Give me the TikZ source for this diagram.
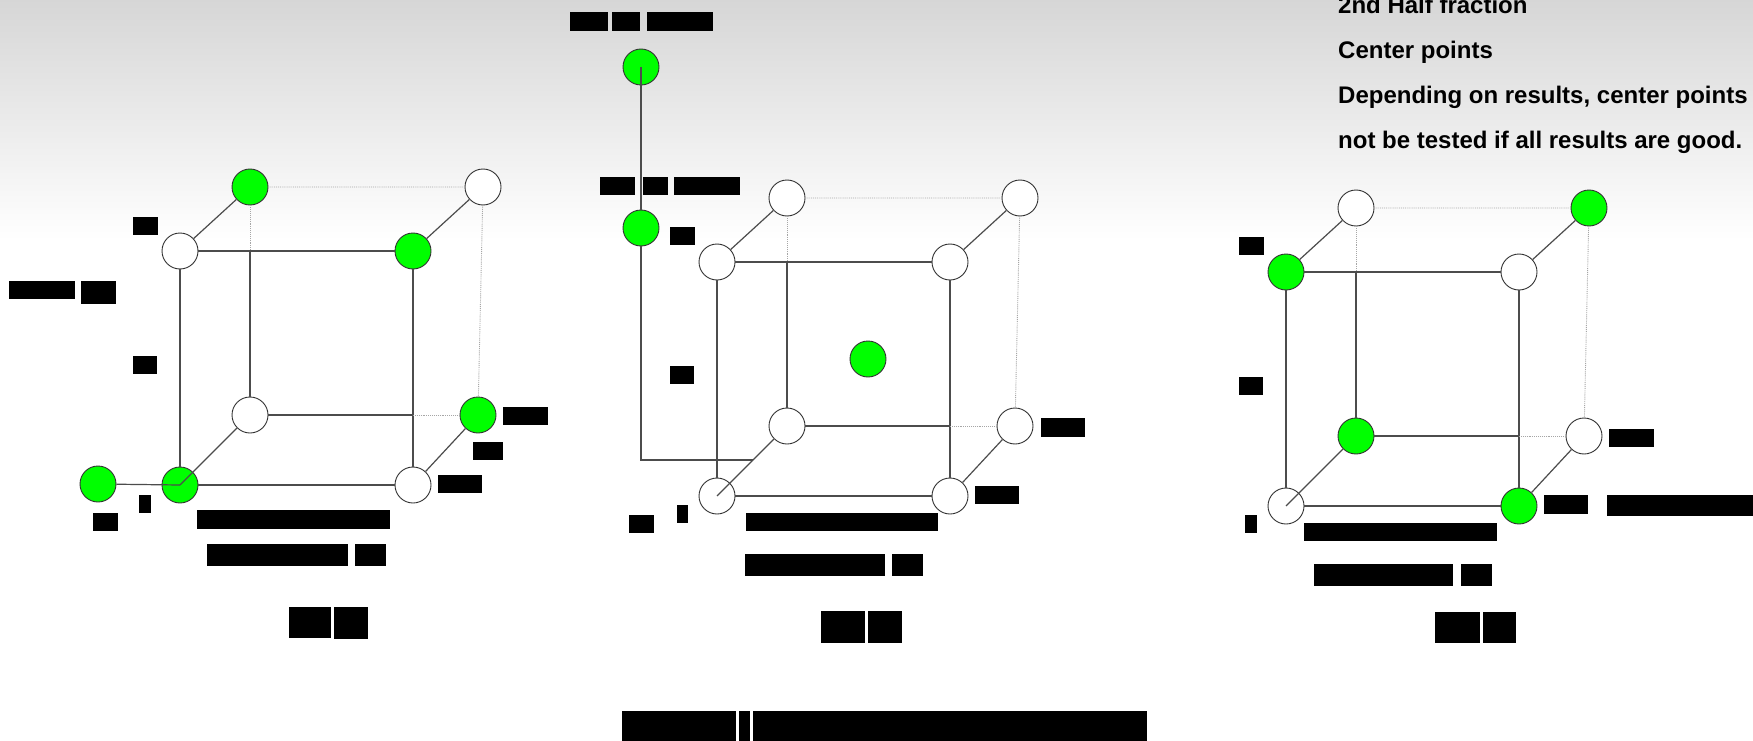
\documentclass[tikz,border=0pt]{standalone}
\usepackage{fontspec}
\setmainfont{Liberation Sans}
\begin{document}
\begin{tikzpicture}[x=1pt, y=-1pt,
    pt/.style={circle, draw=black!80, line width=0.9pt, minimum size=36pt, inner sep=0pt},
    hit/.style={pt, fill=green},
    miss/.style={pt, fill=white},
    edge/.style={black!70, line width=1.2pt},
    hidden/.style={black!35, line width=0.9pt, densely dotted},
    redact/.style={fill=black},
    note/.style={anchor=base west, inner sep=0pt, font=\fontsize{24}{28}\selectfont\bfseries}]
    \useasboundingbox (0,0) rectangle (1753,741);

    % slide background: grey fading to white
    \fill[white] (0,0) rectangle (1753,741);
    \shade[top color=black!16, bottom color=white] (0,0) rectangle (1753,240);

    % three cubes: name / front top left corner / fills (tfl tfr bfl bfr tbl tbr bbl bbr)
    \foreach \cb/\ox/\oy/\fa/\fb/\fc/\fd/\fe/\ff/\fg/\fh in {
        A/180/251/miss/hit/hit/miss/hit/miss/miss/hit,
        B/717/262/miss/miss/miss/miss/miss/miss/miss/miss,
        C/1286/272/hit/miss/miss/hit/miss/hit/hit/miss} {
        \node[\fa] (\cb-tfl) at (\ox,\oy) {};
        \node[\fb] (\cb-tfr) at (\ox+233,\oy) {};
        \node[\fc] (\cb-bfl) at (\ox,\oy+234) {};
        \node[\fd] (\cb-bfr) at (\ox+233,\oy+234) {};
        \node[\fe] (\cb-tbl) at (\ox+70,\oy-64) {};
        \node[\ff] (\cb-tbr) at (\ox+303,\oy-64) {};
        \node[\fg] (\cb-bbl) at (\ox+70,\oy+164) {};
        \node[\fh] (\cb-bbr) at (\ox+298,\oy+164) {};
        % where the back edges pass behind the front face
        \coordinate (\cb-s1) at (\ox+70,\oy);
        \coordinate (\cb-s2) at (\ox+233,\oy+164);

        \draw[edge] (\cb-tfl) -- (\cb-tfr) -- (\cb-bfr) -- (\cb-bfl) -- (\cb-tfl);
        \draw[edge] (\cb-tfl) -- (\cb-tbl) (\cb-tfr) -- (\cb-tbr) (\cb-bfr) -- (\cb-bbr);
        \draw[edge] (\cb-bfl.center) -- (\cb-bbl);
        \draw[hidden] (\cb-tbl) -- (\cb-tbr) -- (\cb-bbr);
        \draw[hidden] (\cb-tbl) -- (\cb-s1);
        \draw[edge] (\cb-s1) -- (\cb-bbl) -- (\cb-s2);
        \draw[hidden] (\cb-s2) -- (\cb-bbr);
    }

    % extra points
    \node[hit] (A-x) at (98,484) {};
    \draw[edge] (A-x) -- (A-bfl.center);

    \node[hit] (B-top) at (641,67) {};
    \node[hit] (B-mid) at (641,228) {};
    \node[hit] (B-cen) at (868,359) {};
    \coordinate (B-knee) at (641,460);
    \coordinate (B-end) at (753,460);
    \draw[edge] (B-top.center) -- (B-mid);
    \draw[edge] (B-mid) -- (B-knee) -- (B-end);

    % blacked out labels
    \foreach \xa/\ya/\xb/\yb in {
        133/217/158/235, 9/281/75/299, 81/281/116/304, 133/356/157/374,
        503/407/548/425, 473/442/503/460, 438/475/482/493, 139/495/151/513,
        93/513/118/531, 197/510/390/529, 207/544/348/566, 355/544/386/566,
        289/607/331/638, 334/607/368/639,
        570/12/608/31, 612/12/640/31, 647/12/713/31,
        600/177/635/195, 643/177/668/195, 674/177/740/195,
        670/227/695/245, 670/366/694/384, 1041/418/1085/437, 975/486/1019/504,
        629/515/654/533, 677/505/688/523, 746/513/938/531,
        745/554/885/576, 892/554/923/576, 821/611/865/643, 868/611/902/643,
        622/711/736/741, 739/711/750/741, 753/711/1147/741,
        1239/237/1264/255, 1239/377/1263/395, 1609/429/1654/447,
        1544/495/1588/514, 1607/495/1753/516, 1245/515/1257/533,
        1304/523/1497/541, 1314/564/1453/586, 1461/564/1492/586,
        1435/612/1480/643, 1483/612/1516/643}
        \fill[redact] (\xa,\ya) rectangle (\xb,\yb);

    % notes, top right
    \foreach \t [count=\i] in {2nd Half fraction, Center points,
        {Depending on results, center points}, not be tested if all results are good.}
        \node[note] (note\i) at (1338,-31+45*\i) {\t};
\end{tikzpicture}
\end{document}
